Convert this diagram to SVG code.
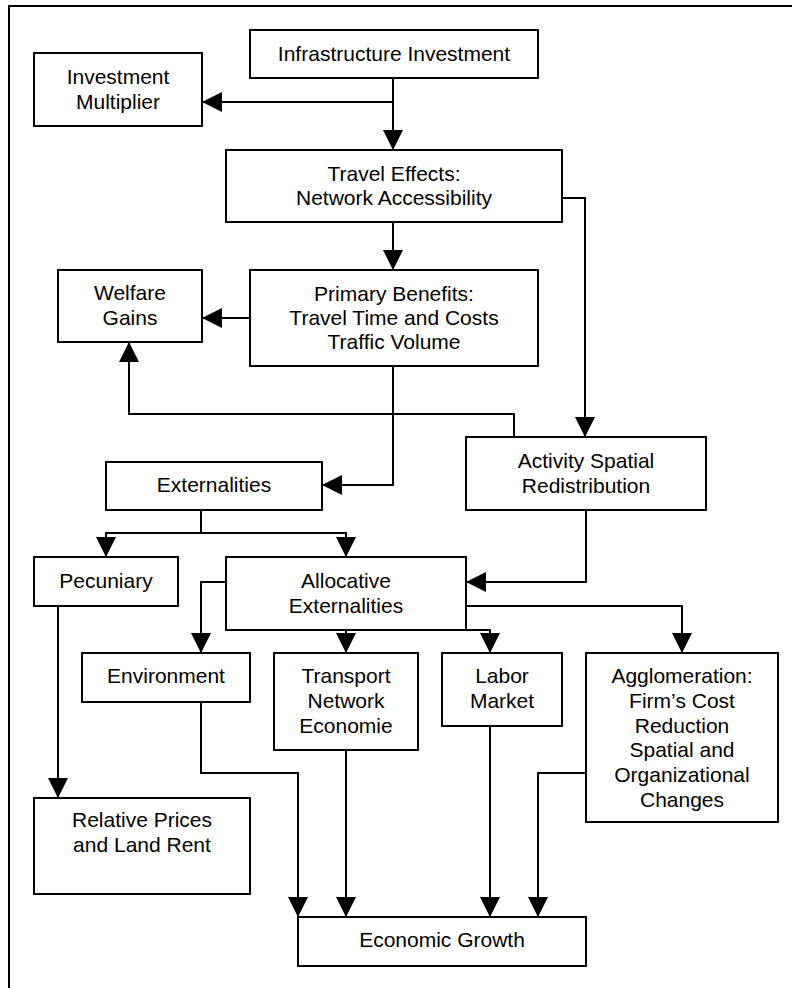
<svg xmlns="http://www.w3.org/2000/svg" width="792" height="988" viewBox="0 0 792 988">
<style>
.box{fill:#fff;stroke:#000;stroke-width:2}
.t{font-family:"Liberation Sans",Arial,sans-serif;font-size:21px;fill:#000;text-anchor:middle}
.c{fill:none;stroke:#000;stroke-width:2}
</style>
<defs>
<marker id="ah" markerUnits="userSpaceOnUse" markerWidth="20" markerHeight="20" viewBox="0 0 20 20" refX="20" refY="10" orient="auto">
<path d="M0,0 L20,10 L0,20 z" fill="#000"/>
</marker>
</defs>
<rect x="0" y="0" width="792" height="988" fill="#fff"/>
<path class="c" d="M9,988 V6 H792"/>
<g id="connectors">
<path class="c" d="M393,78 V150" marker-end="url(#ah)"/>
<path class="c" d="M393,102 H202" marker-end="url(#ah)"/>
<path class="c" d="M393,222 V270" marker-end="url(#ah)"/>
<path class="c" d="M250,318 H202" marker-end="url(#ah)"/>
<path class="c" d="M562,198 H585 V437" marker-end="url(#ah)"/>
<path class="c" d="M514,437 V414 H129 V342" marker-end="url(#ah)"/>
<path class="c" d="M393,366 V485 H322" marker-end="url(#ah)"/>
<path class="c" d="M201,510 V533 H106 V557" marker-end="url(#ah)"/>
<path class="c" d="M201,533 H346 V557" marker-end="url(#ah)"/>
<path class="c" d="M586,510 V582 H466" marker-end="url(#ah)"/>
<path class="c" d="M226,582 H201 V653" marker-end="url(#ah)"/>
<path class="c" d="M346,630 V653" marker-end="url(#ah)"/>
<path class="c" d="M466,630 H490 V653" marker-end="url(#ah)"/>
<path class="c" d="M466,606 H682 V653" marker-end="url(#ah)"/>
<path class="c" d="M58,606 V798" marker-end="url(#ah)"/>
<path class="c" d="M201,702 V773 H298 V917" marker-end="url(#ah)"/>
<path class="c" d="M346,750 V917" marker-end="url(#ah)"/>
<path class="c" d="M490,726 V917" marker-end="url(#ah)"/>
<path class="c" d="M586,773 H538 V917" marker-end="url(#ah)"/>
</g>
<g id="infra"><rect class="box" x="250" y="30" width="288" height="48"/><text class="t" x="394" y="61">Infrastructure Investment</text></g>
<g id="multiplier"><rect class="box" x="34" y="53" width="168" height="73"/><text class="t" x="118" y="84">Investment</text><text class="t" x="118" y="109">Multiplier</text></g>
<g id="travel"><rect class="box" x="226" y="150" width="336" height="72"/><text class="t" x="394" y="181">Travel Effects:</text><text class="t" x="394" y="205">Network Accessibility</text></g>
<g id="welfare"><rect class="box" x="58" y="270" width="144" height="72"/><text class="t" x="130" y="300">Welfare</text><text class="t" x="130" y="325">Gains</text></g>
<g id="primary"><rect class="box" x="250" y="270" width="288" height="96"/><text class="t" x="394" y="301">Primary Benefits:</text><text class="t" x="394" y="325">Travel Time and Costs</text><text class="t" x="394" y="349">Traffic Volume</text></g>
<g id="activity"><rect class="box" x="466" y="437" width="240" height="73"/><text class="t" x="586" y="468">Activity Spatial</text><text class="t" x="586" y="493">Redistribution</text></g>
<g id="externalities"><rect class="box" x="106" y="462" width="216" height="48"/><text class="t" x="214" y="492">Externalities</text></g>
<g id="pecuniary"><rect class="box" x="34" y="557" width="144" height="49"/><text class="t" x="106" y="588">Pecuniary</text></g>
<g id="allocative"><rect class="box" x="226" y="557" width="240" height="73"/><text class="t" x="346" y="588">Allocative</text><text class="t" x="346" y="613">Externalities</text></g>
<g id="environment"><rect class="box" x="82" y="653" width="168" height="49"/><text class="t" x="166" y="683">Environment</text></g>
<g id="transport"><rect class="box" x="274" y="653" width="144" height="97"/><text class="t" x="346" y="683">Transport</text><text class="t" x="346" y="708">Network</text><text class="t" x="346" y="733">Economie</text></g>
<g id="labor"><rect class="box" x="442" y="653" width="120" height="73"/><text class="t" x="502" y="683">Labor</text><text class="t" x="502" y="708">Market</text></g>
<g id="agglomeration"><rect class="box" x="586" y="653" width="192" height="169"/><text class="t" x="682" y="683">Agglomeration:</text><text class="t" x="682" y="708">Firm’s Cost</text><text class="t" x="682" y="733">Reduction</text><text class="t" x="682" y="757">Spatial and</text><text class="t" x="682" y="782">Organizational</text><text class="t" x="682" y="807">Changes</text></g>
<g id="relative"><rect class="box" x="34" y="798" width="216" height="96"/><text class="t" x="142" y="827">Relative Prices</text><text class="t" x="142" y="852">and Land Rent</text></g>
<g id="growth"><rect class="box" x="298" y="917" width="288" height="49"/><text class="t" x="442" y="947">Economic Growth</text></g>
</svg>
